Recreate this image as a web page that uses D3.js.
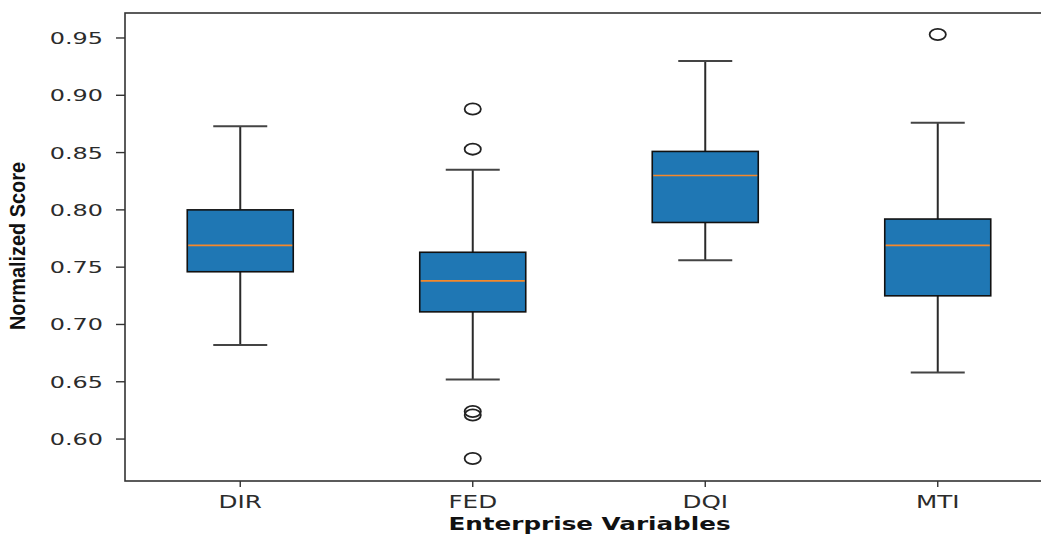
<!DOCTYPE html>
<html>
<head>
<meta charset="utf-8">
<script src="https://cdn.jsdelivr.net/npm/d3@7"></script>
<style>
  body { margin: 0; background: #fff; }
  svg { display: block; }
</style>
</head>
<body>
<div class="chart"></div>
<script>
// box summary
const categories = ['DIR', 'FED', 'DQI', 'MTI'];
const whiskerLow  = [0.682, 0.652, 0.756, 0.658];
const q1          = [0.746, 0.711, 0.789, 0.725];
const median      = [0.769, 0.738, 0.830, 0.769];
const q3          = [0.800, 0.763, 0.851, 0.792];
const whiskerHigh = [0.873, 0.835, 0.930, 0.876];
const outliers = [
    ['FED', 0.888], ['FED', 0.853], ['FED', 0.624], ['FED', 0.621], ['FED', 0.583],
    ['MTI', 0.953]
];
const yTicks = [0.60, 0.65, 0.70, 0.75, 0.80, 0.85, 0.90, 0.95];

const width = 1041;
const height = 535;
// the source image is stretched sideways, so text and markers are too
const stretch = 1.45;

const margin = {left: 125, top: 13, bottom: 481, right: 1054};

let svg = d3.select('.chart').append('svg')
            .attr('width', width)
            .attr('height', height);

let x = d3.scalePoint()
          .domain(categories)
          .range([margin.left - 1, margin.right])
          .padding(0.5);

let y = d3.scaleLinear()
          .domain([0.5634, 0.9718])
          .range([margin.bottom, margin.top]);

const boxW = 106;
const capW = 54;

let rows = categories.map(function(c, i){
    return {cat: c, lo: whiskerLow[i], q1: q1[i], med: median[i], q3: q3[i], hi: whiskerHigh[i]};
});

// whiskers
let g = svg.append('g');
g.selectAll('line.whisk')
    .data(rows.flatMap(function(d){ return [[d.cat, d.lo, d.q1], [d.cat, d.q3, d.hi]]; }))
    .enter().append('line')
    .attr('x1', function(d){ return x(d[0]); })
    .attr('x2', function(d){ return x(d[0]); })
    .attr('y1', function(d){ return y(d[1]); })
    .attr('y2', function(d){ return y(d[2]); })
    .style('stroke', '#2a2a2a')
    .style('stroke-width', 2);

// caps
g.selectAll('line.cap')
    .data(rows.flatMap(function(d){ return [[d.cat, d.lo], [d.cat, d.hi]]; }))
    .enter().append('line')
    .attr('x1', function(d){ return x(d[0]) - capW / 2; })
    .attr('x2', function(d){ return x(d[0]) + capW / 2; })
    .attr('y1', function(d){ return y(d[1]); })
    .attr('y2', function(d){ return y(d[1]); })
    .style('stroke', '#444')
    .style('stroke-width', 2);

// boxes
g.selectAll('rect.box')
    .data(rows)
    .enter().append('rect')
    .attr('x', function(d){ return x(d.cat) - boxW / 2; })
    .attr('y', function(d){ return y(d.q3); })
    .attr('width', boxW)
    .attr('height', function(d){ return y(d.q1) - y(d.q3); })
    .style('fill', '#1f77b4')
    .style('stroke', '#111')
    .style('stroke-width', 1.6);

// medians
g.selectAll('line.med')
    .data(rows)
    .enter().append('line')
    .attr('x1', function(d){ return x(d.cat) - boxW / 2 + 1; })
    .attr('x2', function(d){ return x(d.cat) + boxW / 2 - 1; })
    .attr('y1', function(d){ return y(d.med); })
    .attr('y2', function(d){ return y(d.med); })
    .style('stroke', '#f5882a')
    .style('stroke-width', 1.7);

// fliers
g.selectAll('ellipse')
    .data(outliers)
    .enter().append('ellipse')
    .attr('cx', function(d){ return x(d[0]); })
    .attr('cy', function(d){ return y(d[1]); })
    .attr('rx', 5.6 * stretch)
    .attr('ry', 5.6)
    .style('fill', 'none')
    .style('stroke', '#222')
    .style('stroke-width', 1.8);

// frame
svg.append('rect')
    .attr('x', margin.left)
    .attr('y', margin.top)
    .attr('width', margin.right - margin.left)
    .attr('height', margin.bottom - margin.top)
    .style('fill', 'none')
    .style('stroke', '#333')
    .style('stroke-width', 1.6);

// y ticks
svg.selectAll('line.ytick')
    .data(yTicks)
    .enter().append('line')
    .attr('x1', margin.left - 9)
    .attr('x2', margin.left)
    .attr('y1', function(d){ return y(d); })
    .attr('y2', function(d){ return y(d); })
    .style('stroke', '#333')
    .style('stroke-width', 1.4);

svg.selectAll('text.ytick')
    .data(yTicks)
    .enter().append('text')
    .attr('transform', function(d){ return 'translate(103,' + (y(d) + 6) + ') scale(' + stretch + ',1)'; })
    .attr('text-anchor', 'end')
    .style('font-family', 'DejaVu Sans')
    .style('font-size', '16.5px')
    .style('fill', '#2b2b2b')
    .text(function(d){ return d.toFixed(2); });

// x ticks
svg.selectAll('line.xtick')
    .data(categories)
    .enter().append('line')
    .attr('x1', function(d){ return x(d); })
    .attr('x2', function(d){ return x(d); })
    .attr('y1', margin.bottom)
    .attr('y2', margin.bottom + 6)
    .style('stroke', '#333')
    .style('stroke-width', 1.4);

svg.selectAll('text.xtick')
    .data(categories)
    .enter().append('text')
    .attr('transform', function(d){ return 'translate(' + x(d) + ',508) scale(' + stretch + ',1)'; })
    .attr('text-anchor', 'middle')
    .style('font-family', 'DejaVu Sans')
    .style('font-size', '17px')
    .style('fill', '#2b2b2b')
    .text(function(d){ return d; });

// axis titles
svg.append('text')
    .attr('transform', 'translate(' + (margin.left + margin.right) / 2 + ',530) scale(' + stretch + ',1)')
    .attr('text-anchor', 'middle')
    .style('font-family', 'DejaVu Sans')
    .style('font-weight', 'bold')
    .style('font-size', '17px')
    .style('fill', '#111')
    .text('Enterprise Variables');

svg.append('text')
    .attr('transform', 'translate(25,246) scale(' + stretch + ',1) rotate(-90)')
    .attr('text-anchor', 'middle')
    .attr('textLength', 168)
    .attr('lengthAdjust', 'spacingAndGlyphs')
    .style('font-family', '"Liberation Sans Narrow", "Liberation Sans", sans-serif')
    .style('font-weight', 'bold')
    .style('font-size', '15px')
    .style('fill', '#111')
    .text('Normalized Score');
</script>
</body>
</html>
